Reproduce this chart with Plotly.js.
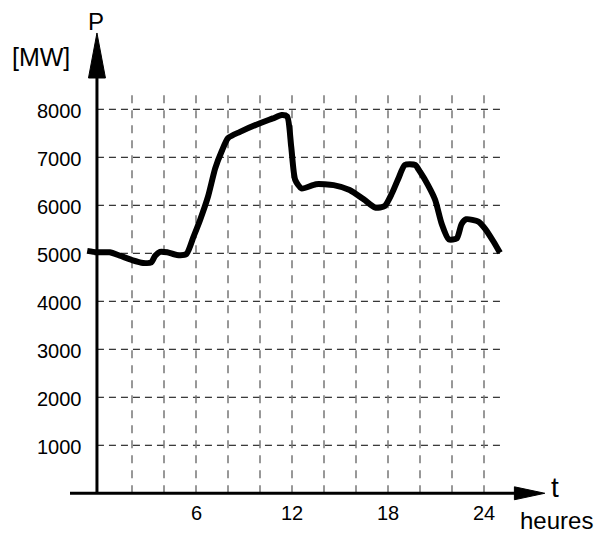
<!DOCTYPE html>
<html>
<head>
<meta charset="utf-8">
<script src="https://cdn.plot.ly/plotly-3.0.1.min.js"></script>
<style>html,body{margin:0;padding:0;background:#fff;}#chart{width:602px;height:536px;}</style>
</head>
<body>
<div id="chart"></div>
<script>
// ---- data (hours, MW) ----
const hours = [-0.8, -0.2, 0.6, 1.25, 2.0, 2.7, 3.2, 3.45, 3.75, 4.2, 4.8, 5.4, 5.85, 6.25, 6.75, 7.2, 7.6, 8.0, 8.75, 10.0, 10.8, 11.35, 11.7, 11.95, 12.2, 12.6, 13.5, 14.6, 15.6, 16.5, 17.2, 17.8, 18.25, 18.65, 19.05, 19.7, 20.0, 20.5, 20.95, 21.35, 21.8, 22.3, 22.6, 22.9, 23.65, 24.05, 24.6, 25.0];
const power = [5050, 5020, 5020, 4950, 4860, 4800, 4810, 4950, 5030, 5020, 4965, 4985, 5350, 5690, 6180, 6770, 7120, 7400, 7530, 7710, 7810, 7880, 7850, 7220, 6530, 6350, 6440, 6420, 6320, 6120, 5950, 5985, 6250, 6560, 6840, 6840, 6700, 6420, 6110, 5620, 5290, 5310, 5610, 5710, 5660, 5520, 5240, 5010];

const yTickVals = [1000, 2000, 3000, 4000, 5000, 6000, 7000, 8000];
const yTickText = ["1000", "2000", "3000", "4000", "5000", "6000", "7000", "8000"];
const xGridVals = [2, 4, 6, 8, 10, 12, 14, 16, 18, 20, 22, 24];
const xTickVals = [6, 12, 18, 24];
const xTickText = ["6", "12", "18", "24"];

// ---- geometry in data units ----
const YAXIS_X = -0.19;      // where the vertical axis sits
const GRID_RIGHT = 25;      // horizontal grid extent
const GRID_TOP = 8340;      // vertical grid extent
const FONT = "Liberation Sans, Arial, sans-serif";

const shapes = [];
yTickVals.forEach(v => shapes.push({
  type: "line", xref: "x", yref: "y", x0: YAXIS_X, x1: GRID_RIGHT, y0: v, y1: v,
  line: {color: "#000", width: 1, dash: "7px,5px"}, layer: "below"
}));
xGridVals.forEach(v => shapes.push({
  type: "line", xref: "x", yref: "y", x0: v, x1: v, y0: 0, y1: GRID_TOP,
  line: {color: "#777", width: 1.5, dash: "8px,7px"}, layer: "below"
}));
// axes
shapes.push({type: "line", xref: "x", yref: "y", x0: -1.875, x1: 26.2, y0: 0, y1: 0,
  line: {color: "#000", width: 3}});
shapes.push({type: "line", xref: "x", yref: "y", x0: YAXIS_X, x1: YAXIS_X, y0: 0, y1: 8900,
  line: {color: "#000", width: 3}});
// arrow heads
shapes.push({type: "path", xref: "x", yref: "y",
  path: "M 25.9,-135 L 27.8,0 L 25.9,135 Z", fillcolor: "#000", line: {color: "#000", width: 1}});
shapes.push({type: "path", xref: "x", yref: "y",
  path: `M ${YAXIS_X - 0.53},8652 L ${YAXIS_X},9590 L ${YAXIS_X + 0.53},8652 Z`,
  fillcolor: "#000", line: {color: "#000", width: 1}});

const annotations = [];
yTickVals.forEach((v, i) => annotations.push({
  xref: "x", yref: "y", x: -1.0, y: v - 45, text: yTickText[i], showarrow: false,
  xanchor: "right", yanchor: "middle", font: {family: FONT, size: 20, color: "#000"}
}));
xTickVals.forEach((v, i) => annotations.push({
  xref: "x", yref: "y", x: v, y: -410, text: xTickText[i], showarrow: false,
  xanchor: "center", yanchor: "middle", font: {family: FONT, size: 20, color: "#000"}
}));
annotations.push({xref: "x", yref: "y", x: -0.25, y: 9820, text: "P", showarrow: false,
  xanchor: "center", yanchor: "middle", font: {family: FONT, size: 24, color: "#000"}});
annotations.push({xref: "x", yref: "y", x: -3.69, y: 9090, text: "[MW]", showarrow: false,
  xanchor: "center", yanchor: "middle", font: {family: FONT, size: 25, color: "#000"}});
annotations.push({xref: "x", yref: "y", x: 28.45, y: 130, text: "t", showarrow: false,
  xanchor: "center", yanchor: "middle", font: {family: FONT, size: 28, color: "#000"}});
annotations.push({xref: "x", yref: "y", x: 28.55, y: -560, text: "heures", showarrow: false,
  xanchor: "center", yanchor: "middle", borderpad: 0,
  font: {family: FONT, size: 24, color: "#000"}});

const trace = {
  x: hours, y: power, type: "scatter", mode: "lines",
  line: {color: "#000", width: 6, shape: "spline", smoothing: 0.6},
  hoverinfo: "skip"
};

const layout = {
  width: 602, height: 536,
  margin: {l: 0, r: 0, t: 0, b: 0, pad: 0},
  paper_bgcolor: "#fff", plot_bgcolor: "#fff",
  showlegend: false,
  xaxis: {range: [-6.25, 31.375], visible: false, fixedrange: true},
  yaxis: {range: [-890, 10277], visible: false, fixedrange: true},
  shapes: shapes,
  annotations: annotations
};

Plotly.newPlot("chart", [trace], layout, {staticPlot: true, displayModeBar: false});
</script>
</body>
</html>
